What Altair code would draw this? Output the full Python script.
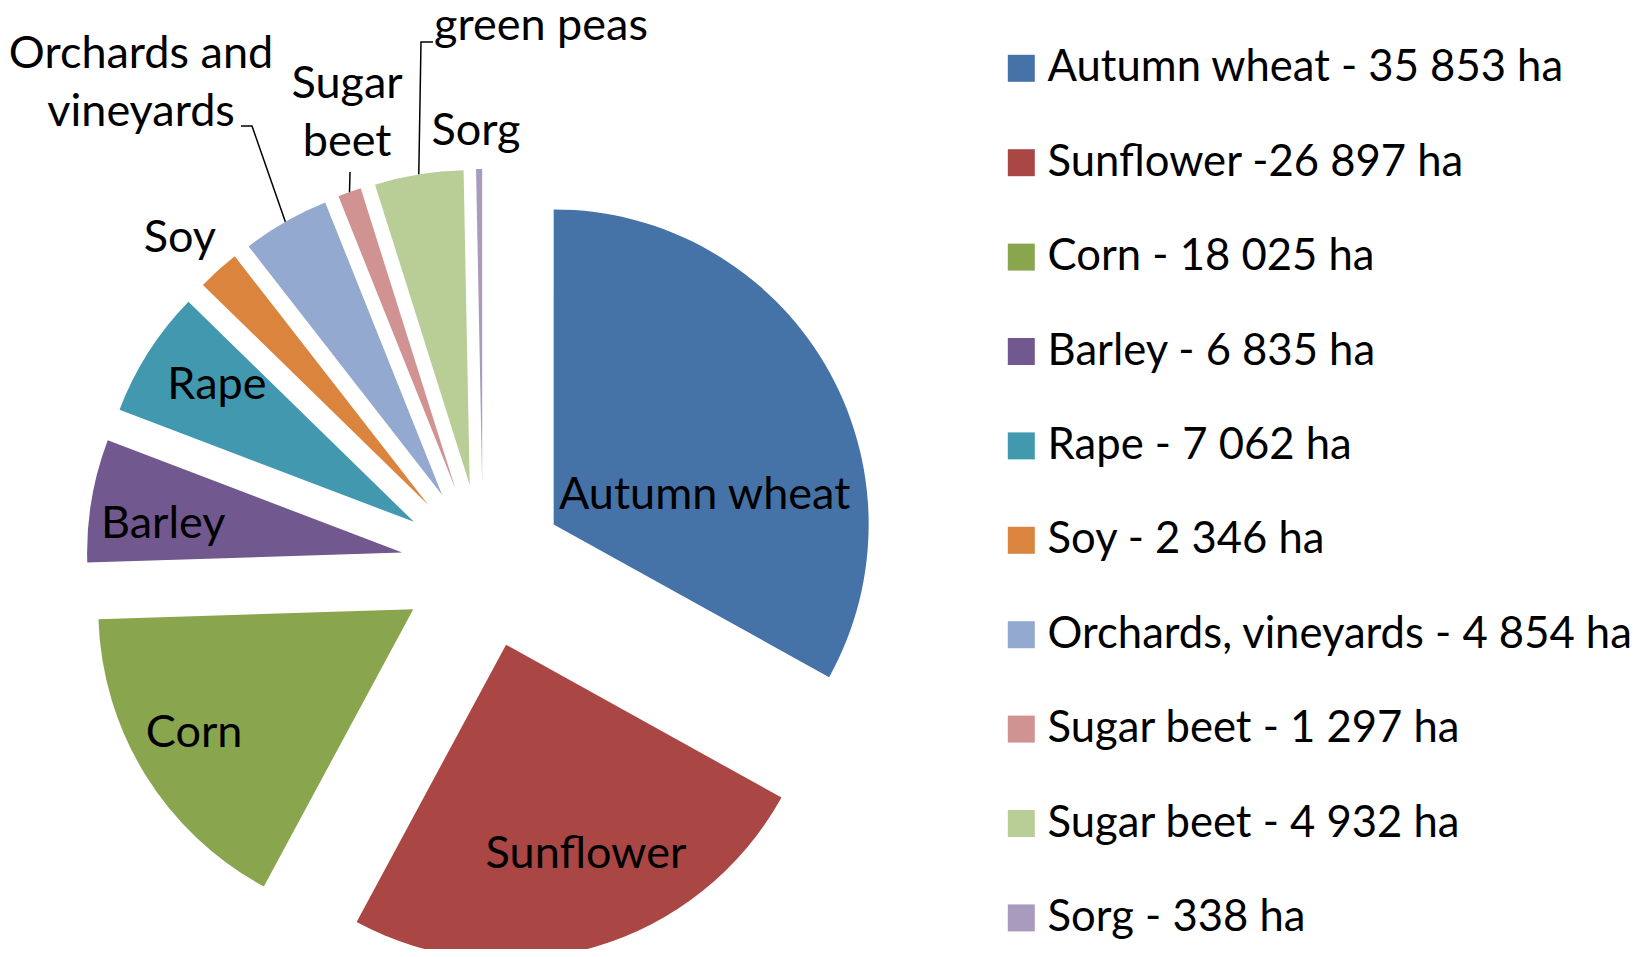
import math
import altair as alt
import pandas as pd

# ---- data ----
crops = ["Autumn wheat", "Sunflower", "Corn", "Barley", "Rape", "Soy",
         "Orchards and vineyards", "Sugar beet", "green peas", "Sorg"]
areas = [35853, 26897, 18025, 6835, 7062, 2346, 4854, 1297, 4932, 338]
legend_labels = ["Autumn wheat - 35 853 ha", "Sunflower -26 897 ha", "Corn - 18 025 ha",
                 "Barley - 6 835 ha", "Rape - 7 062 ha", "Soy - 2 346 ha",
                 "Orchards, vineyards - 4 854 ha", "Sugar beet - 1 297 ha",
                 "Sugar beet - 4 932 ha", "Sorg - 338 ha"]
slice_labels = ["Autumn wheat", "Sunflower", "Corn", "Barley", "Rape", "Soy",
                "Orchards and\nvineyards", "Sugar\nbeet", "green peas", "Sorg"]
colors = ["#4572A7", "#AA4643", "#89A54E", "#71588F", "#4198AF", "#DB843D",
          "#93A9CF", "#D19392", "#B9CD96", "#A99BBD"]

# ---- layout ----
W, H = 1627, 941
CX, CY = 475, 558      # pie centre (px)
R = 315                # slice radius
D = 82                 # explode distance
FONT = "Lato"
FS = 45
LEG_FS = 43.6
# label placement relative to each exploded slice apex (distance px, direction deg)
label_dist = [151.7, 237, 259, 239.4, 232.2, 354.4, 522.4, 405.6, 450.8, 339]
label_dir = [84.3, 160.3, 237.8, 273.35, 301.97, 315.5, 324.8, 344.5, 9.1, 358.95]
# leader line elbows (px) for the labelled small slices
leader_elbows = {
    "Orchards and vineyards": [(244, 118), (233, 118)],
    "Sugar beet": [(342, 164)],
    "green peas": [(413, 34), (425, 34)],
}

total = sum(areas)
df = pd.DataFrame({
    "order": list(range(len(crops))),
    "crop": crops,
    "area": areas,
    "legend": legend_labels,
    "label": slice_labels,
    "ld": label_dist,
    "la": label_dir,
})

base = (
    alt.Chart(df)
    .transform_window(c1="sum(area)", sort=[alt.SortField("order")], frame=[None, 0])
    .transform_calculate(c0="datum.c1 - datum.area")
    .transform_calculate(
        mid=f"PI * (datum.c0 + datum.c1) / {total}",
    )
    .transform_calculate(
        ex=f"{CX} + {D} * sin(datum.mid)",
        ey=f"{CY} - {D} * cos(datum.mid)",
    )
    .transform_calculate(
        lx="datum.ex + datum.ld * sin(datum.la * PI / 180)",
        ly="datum.ey - datum.ld * cos(datum.la * PI / 180)",
    )
)

arcs = base.mark_arc(radius=R, strokeWidth=0).encode(
    theta=alt.Theta("c0:Q", scale=alt.Scale(domain=[0, total], range=[0, 2 * math.pi])),
    theta2="c1:Q",
    x=alt.X("ex:Q", scale=None, axis=None),
    y=alt.Y("ey:Q", scale=None, axis=None),
    color=alt.Color(
        "legend:N",
        scale=alt.Scale(domain=legend_labels, range=colors),
        sort=legend_labels,
        legend=alt.Legend(
            title=None, orient="none", legendX=991.5, legendY=38.5,
            symbolType="square", symbolSize=729, symbolStrokeWidth=0,
            labelFont=FONT, labelFontSize=LEG_FS, labelColor="black",
            labelLimit=2000, labelOffset=4.5, rowPadding=49.4, padding=0,
        ),
    ),
)

texts = base.mark_text(
    font=FONT, fontSize=FS, color="black", align="center",
    baseline="alphabetic", lineBreak="\n", lineHeight=58,
).encode(
    x=alt.X("lx:Q", scale=None, axis=None),
    y=alt.Y("ly:Q", scale=None, axis=None),
    text="label:N",
)

# leader lines: start at the slice's outer edge on its mid angle
rows = []
cum = 0
for i, (c, a) in enumerate(zip(crops, areas)):
    mid = math.pi * (2 * cum + a) / total
    cum += a
    if c in leader_elbows:
        ex = CX + D * math.sin(mid)
        ey = CY - D * math.cos(mid)
        pts = [(ex + R * math.sin(mid), ey - R * math.cos(mid))] + leader_elbows[c]
        for k, (px, py) in enumerate(pts):
            rows.append({"crop": c, "k": k, "px": px, "py": py})
lead_df = pd.DataFrame(rows)

leaders = alt.Chart(lead_df).mark_line(color="black", strokeWidth=1.5).encode(
    x=alt.X("px:Q", scale=None, axis=None),
    y=alt.Y("py:Q", scale=None, axis=None),
    detail="crop:N",
    order="k:Q",
)

chart = (
    alt.layer(arcs, leaders, texts)
    .properties(width=W, height=H, padding=0, autosize=alt.AutoSizeParams(type="none"))
    .configure_view(stroke=None)
)

chart.save("out.html", embed_options={"renderer": "svg", "actions": False})
